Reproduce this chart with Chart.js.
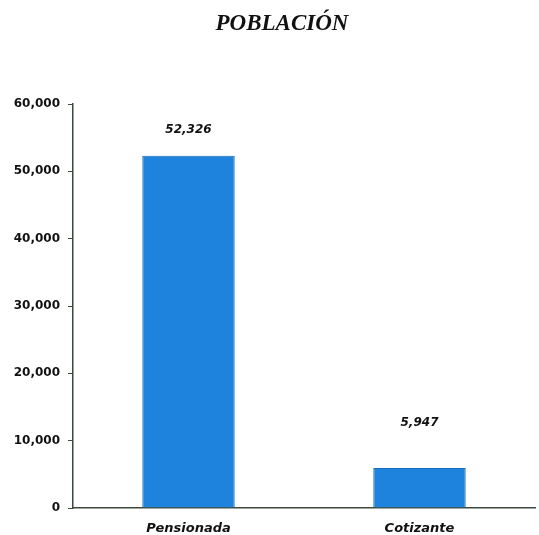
<!DOCTYPE html>
<html>
<head>
<meta charset="utf-8">
<script src="https://cdn.jsdelivr.net/npm/chart.js@4/dist/chart.umd.min.js"></script>
<style>
html,body{margin:0;padding:0;background:#fff;}
#wrap{width:539px;height:535px;position:relative;}
</style>
</head>
<body>
<div id="wrap"><canvas id="c" width="539" height="535"></canvas></div>
<script>
const chartTitle = 'POBLACIÓN';
const categories = ['Pensionada', 'Cotizante'];
const values = [52326, 5947];
const valueLabels = ['52,326', '5,947'];
const yTicks = [0, 10000, 20000, 30000, 40000, 50000, 60000];

const titlePlugin = {
  id: 'titlePlugin',
  afterDraw(chart) {
    const ctx = chart.ctx;
    ctx.save();
    ctx.font = 'italic bold 23px "Liberation Serif"';
    ctx.fillStyle = '#111';
    ctx.textAlign = 'center';
    ctx.textBaseline = 'middle';
    ctx.fillText(chartTitle, 282, 24);
    ctx.restore();
  }
};

const labelOffsets = [26, 45];
const valueLabelPlugin = {
  id: 'valueLabelPlugin',
  afterDatasetsDraw(chart) {
    const ctx = chart.ctx;
    const meta = chart.getDatasetMeta(0);
    ctx.save();
    ctx.font = 'italic bold 12px "DejaVu Sans"';
    ctx.fillStyle = '#111';
    ctx.textAlign = 'center';
    ctx.textBaseline = 'middle';
    meta.data.forEach((bar, i) => {
      ctx.fillText(valueLabels[i], bar.x, bar.y - labelOffsets[i]);
    });
    ctx.restore();
  }
};

new Chart(document.getElementById('c'), {
  type: 'bar',
  data: {
    labels: categories,
    datasets: [{
      data: values,
      backgroundColor: '#1e83dc',
      borderColor: '#1769b8',
      borderWidth: 1,
      barPercentage: 0.8,
      categoryPercentage: 0.5
    }]
  },
  options: {
    responsive: false,
    animation: false,
    layout: { padding: { top: 104, right: 4, left: 0, bottom: 0 } },
    plugins: { legend: { display: false }, title: { display: false }, tooltip: { enabled: false } },
    scales: {
      y: {
        min: 0, max: 60000,
        afterBuildTicks(scale) { scale.ticks = yTicks.map(v => ({ value: v })); },
        afterFit(scale) { scale.width = 73; },
        border: { display: true, color: '#3d4a3d', width: 1.5 },
        grid: { display: true, drawOnChartArea: false, drawTicks: true, tickLength: 5, color: '#3d4a3d' },
        ticks: {
          padding: 8,
          color: '#111',
          font: { family: 'DejaVu Sans', weight: 'bold', size: 12 },
          callback: v => v.toLocaleString('en-US')
        }
      },
      x: {
        afterFit(scale) { scale.height = 27; },
        border: { display: true, color: '#3d4a3d', width: 1.5 },
        grid: { display: false },
        ticks: {
          padding: 5,
          color: '#111',
          font: { family: 'DejaVu Sans', weight: 'bold', style: 'italic', size: 13 }
        }
      }
    }
  },
  plugins: [titlePlugin, valueLabelPlugin]
});
</script>
</body>
</html>
